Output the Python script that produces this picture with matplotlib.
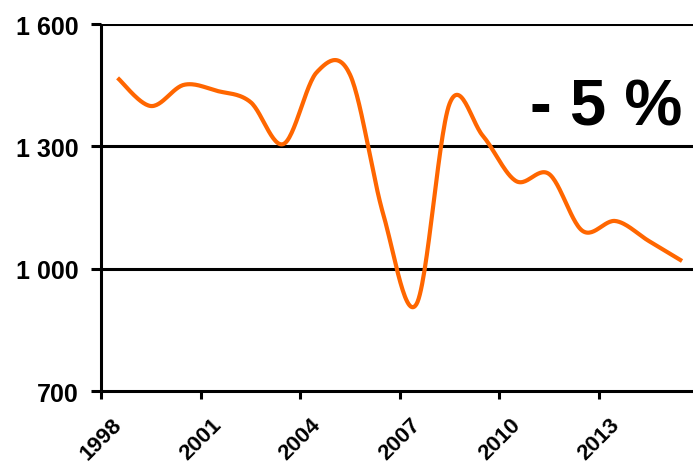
import numpy as np
import matplotlib.pyplot as plt

plt.rcParams['font.family'] = ['Liberation Sans', 'DejaVu Sans']

years = list(range(1998, 2016))
values = [1468, 1399, 1451, 1436, 1409, 1306, 1482, 1476, 1134, 913,
          1405, 1326, 1215, 1232, 1093, 1117, 1068, 1019]
tick_years = [1998, 2001, 2004, 2007, 2010, 2013]
y_ticks = [700, 1000, 1300, 1600]
y_labels = ['700', '1 000', '1 300', '1 600']
label = '- 5 %'


def smooth(x, y, n=30):
    # catmull-rom style bezier smoothing, like the office "smoothed line"
    x = np.asarray(x, float)
    y = np.asarray(y, float)
    px = np.concatenate([[x[0]], x, [x[-1]]])
    py = np.concatenate([[y[0]], y, [y[-1]]])
    xs, ys = [], []
    t = np.linspace(0, 1, n)
    for i in range(1, len(px) - 2):
        p0 = np.array([px[i], py[i]])
        p3 = np.array([px[i + 1], py[i + 1]])
        c1 = p0 + (np.array([px[i + 1], py[i + 1]]) - np.array([px[i - 1], py[i - 1]])) / 6
        c2 = p3 - (np.array([px[i + 2], py[i + 2]]) - np.array([px[i], py[i]])) / 6
        b = ((1 - t) ** 3)[:, None] * p0 + (3 * (1 - t) ** 2 * t)[:, None] * c1 \
            + (3 * (1 - t) * t ** 2)[:, None] * c2 + (t ** 3)[:, None] * p3
        xs.extend(b[:, 0])
        ys.extend(b[:, 1])
    return xs, ys


fig = plt.figure(figsize=(6.93, 4.64), dpi=100)
ax = fig.add_axes([0.1457, 0.155, 0.8543, 0.791])

xpos = [yr + 0.5 for yr in years]
sx, sy = smooth(xpos, values)
ax.plot(sx, sy, color='#FF6600', lw=3, solid_capstyle='butt', zorder=3)

ax.set_xlim(1998, 2015.83)
ax.set_ylim(700, 1600)
ax.set_yticks(y_ticks)
ax.set_yticklabels(y_labels, fontweight='bold')
ax.set_xticks(tick_years)
ax.set_xticklabels([str(t) for t in tick_years], rotation=45, fontweight='bold')

for v in y_ticks[1:]:
    ax.axhline(v, color='black', lw=2.2, zorder=2)

for s in ['top', 'right']:
    ax.spines[s].set_visible(False)
for s in ['left', 'bottom']:
    ax.spines[s].set_linewidth(2.2)
    ax.spines[s].set_capstyle('butt')

ax.tick_params(axis='y', length=7, width=2.2, labelsize=18, pad=9)
ax.tick_params(axis='x', length=6, width=2.2, labelsize=16, pad=10)

ax.text(0.853, 0.772, label, transform=ax.transAxes, fontsize=47,
        fontweight='bold', ha='center', va='center')

fig.savefig('out.png', dpi=100)
